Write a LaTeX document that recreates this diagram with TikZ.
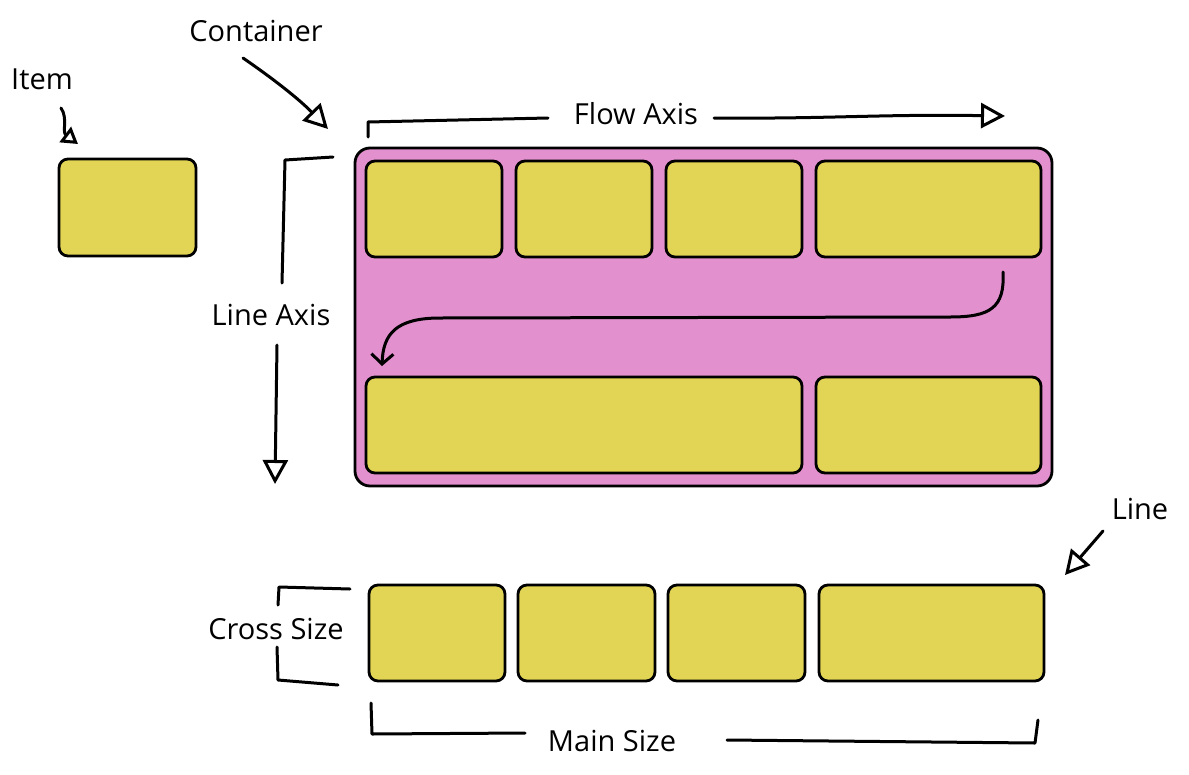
\documentclass[tikz,border=0pt]{standalone}
\usepackage{fontspec}
\setmainfont{Open Sans}
\usetikzlibrary{arrows.meta}
\definecolor{itemyellow}{RGB}{226,213,86}
\definecolor{contpink}{RGB}{226,144,206}
\begin{document}
\begin{tikzpicture}[x=1pt,y=-1pt,
  item/.style={draw, fill=itemyellow, rounded corners=9pt, line width=2.8pt, inner sep=0pt},
  cont/.style={draw, fill=contpink, rounded corners=15pt, line width=2.8pt, inner sep=0pt},
  lbl/.style={font=\fontsize{29}{31}\selectfont, inner sep=0pt},
  hand/.style={line width=3pt, line cap=round, line join=round},
  tri/.style={-{Triangle[open, length=24pt, width=25pt, line width=3pt]}},
  smalltri/.style={-{Triangle[open, length=16pt, width=19pt, line width=3pt]}},
  barb/.style={-{Straight Barb[length=10pt, width=22pt, line width=3pt]}}]
\useasboundingbox (0,0) rectangle (1189,774);

% lone item
\node[item, minimum width=137pt, minimum height=97pt] (lone) at (127.5,207.5) {};

% container
\node[cont, minimum width=697pt, minimum height=338pt] (cont) at (703.5,317) {};
\node[item, minimum width=136pt, minimum height=96pt] (r1a) at (434,209) {};
\node[item, minimum width=136pt, minimum height=96pt] (r1b) at (584,209) {};
\node[item, minimum width=136pt, minimum height=96pt] (r1c) at (734,209) {};
\node[item, minimum width=225pt, minimum height=96pt] (r1d) at (928.5,209) {};
\node[item, minimum width=436pt, minimum height=96pt] (r2a) at (584,425) {};
\node[item, minimum width=225pt, minimum height=96pt] (r2b) at (928.5,425) {};

% wrap arrow
\coordinate (wrapS) at (1003,272);
\coordinate (wrapE) at (382,366);
\draw[hand, barb] (wrapS) .. controls (1005,308) and (990,317) .. (950,317)
  -- (440,318) .. controls (396,318) and (383,334) .. (wrapE);

% bottom line
\node[item, minimum width=136pt, minimum height=96pt] (b1) at (437,633) {};
\node[item, minimum width=137pt, minimum height=96pt] (b2) at (586.5,633) {};
\node[item, minimum width=137pt, minimum height=96pt] (b3) at (736.5,633) {};
\node[item, minimum width=225pt, minimum height=96pt] (b4) at (931.5,633) {};

% labels
\node[lbl] (itemL) at (42,79) {Item};
\node[lbl] (contL) at (256,31) {Container};
\node[lbl] (flowL) at (636,114) {Flow Axis};
\node[lbl] (lineaxL) at (271,315) {Line Axis};
\node[lbl] (lineL) at (1140,509) {Line};
\node[lbl] (crossL) at (276,629) {Cross Size};
\node[lbl] (mainL) at (612,741) {Main Size};

% item arrow
\coordinate (itA) at (61,108);
\coordinate (itB) at (78,144);
\draw[hand, smalltri] (itA) .. controls (68,118) and (62,132) .. (itB);

% container arrow
\coordinate (ctA) at (243,58);
\coordinate (ctB) at (328,129);
\draw[hand, tri] (ctA) .. controls (275,80) and (300,100) .. (ctB);

% flow axis
\coordinate (fa1) at (368,137);
\coordinate (fa2) at (368,122);
\coordinate (fa3) at (548,118);
\coordinate (fa4) at (714,118);
\coordinate (fa5) at (1005,116);
\draw[hand] (fa1) -- (fa2) -- (fa3);
\draw[hand, tri] (fa4) .. controls (830,119) and (880,114) .. (fa5);

% line axis
\coordinate (la1) at (333,157);
\coordinate (la2) at (285,160);
\coordinate (la3) at (282,283);
\coordinate (la4) at (277,345);
\coordinate (la5) at (275,484);
\draw[hand] (la1) -- (la2) -- (la3);
\draw[hand, tri] (la4) -- (la5);

% line arrow
\coordinate (lnA) at (1103,531);
\coordinate (lnB) at (1065,575);
\draw[hand, tri] (lnA) -- (lnB);

% cross size bracket
\coordinate (cs1) at (350,589);
\coordinate (cs2) at (279,587);
\coordinate (cs3) at (278,605);
\coordinate (cs4) at (277,647);
\coordinate (cs5) at (278,680);
\coordinate (cs6) at (338,685);
\draw[hand] (cs1) -- (cs2) -- (cs3);
\draw[hand] (cs4) -- (cs5) -- (cs6);

% main size bracket
\coordinate (ms1) at (371,703);
\coordinate (ms2) at (372,734);
\coordinate (ms3) at (525,733);
\coordinate (ms4) at (727,740);
\coordinate (ms5) at (1035,743);
\coordinate (ms6) at (1038,720);
\draw[hand] (ms1) -- (ms2) -- (ms3);
\draw[hand] (ms4) -- (ms5) -- (ms6);
\end{tikzpicture}
\end{document}
